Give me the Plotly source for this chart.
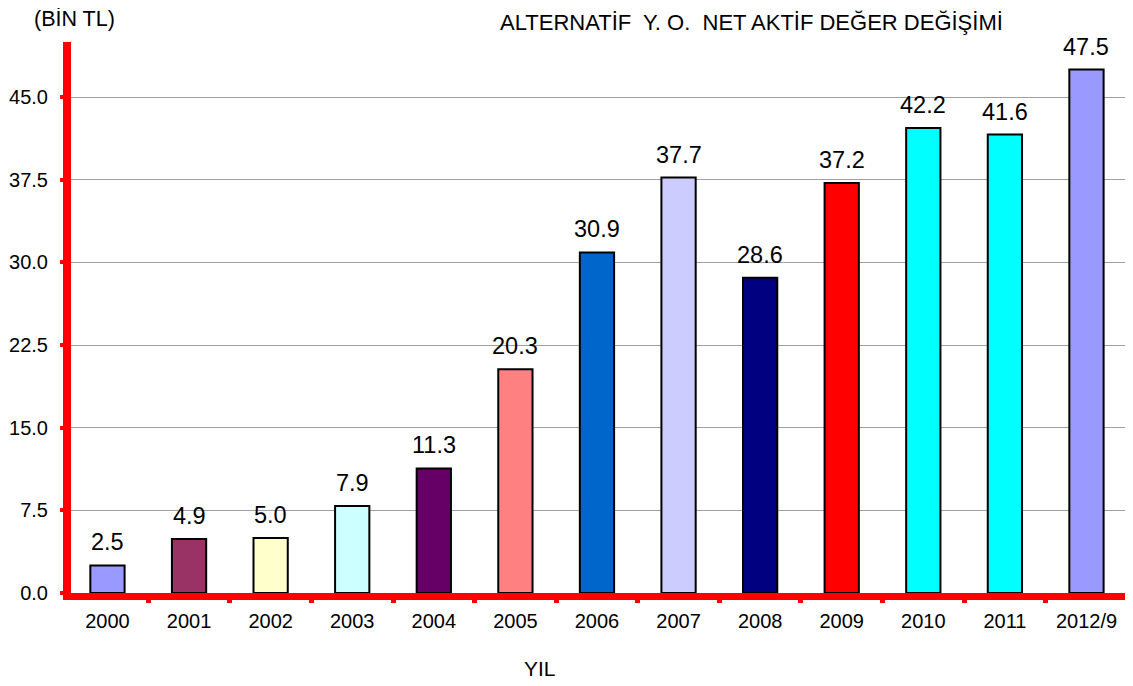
import plotly.graph_objects as go

years = ["2000", "2001", "2002", "2003", "2004", "2005", "2006", "2007", "2008", "2009", "2010", "2011", "2012/9"]
values = [2.5, 4.9, 5.0, 7.9, 11.3, 20.3, 30.9, 37.7, 28.6, 37.2, 42.2, 41.6, 47.5]
colors = ["#9999FF", "#993366", "#FFFFCC", "#CCFFFF", "#660066", "#FF8080", "#0066CC",
          "#CCCCFF", "#000080", "#FF0000", "#00FFFF", "#00FFFF", "#9999FF"]
ytick_vals = [0, 7.5, 15, 22.5, 30, 37.5, 45]
ytick_text = ["0.0", "7.5", "15.0", "22.5", "30.0", "37.5", "45.0"]

FONT = "Liberation Sans, Arial"

fig = go.Figure(go.Bar(
    x=years, y=values,
    marker=dict(color=colors, line=dict(color="black", width=2)),
    width=0.42,
    cliponaxis=False,
))

# value labels above bars (category index positions on the category axis)
annotations = [
    dict(x=i, y=v, xref="x", yref="y", text=f"{v:.1f}", showarrow=False,
         yanchor="bottom", xanchor="center", yshift=8,
         font=dict(size=23.5, color="black", family=FONT))
    for i, v in enumerate(values)
]
annotations += [
    dict(text="ALTERNATİF  Y. O.  NET AKTİF DEĞER DEĞİŞİMİ", xref="paper", yref="paper",
         x=0.644, y=1.0, yanchor="middle", xanchor="center", showarrow=False,
         font=dict(size=22, family=FONT), yshift=20),
    dict(text="(BİN TL)", xref="paper", yref="paper", x=0.003, y=1.0,
         xanchor="center", yanchor="middle", showarrow=False, font=dict(size=21.5, family=FONT), yshift=23),
    dict(text="YIL", xref="paper", yref="paper", x=0.4437, y=0, xanchor="center",
         yanchor="middle", showarrow=False, font=dict(size=21, family=FONT), yshift=-75),
]

# page body adds an 8px offset; figure sized to fill the remaining window
fig.update_layout(
    width=1125, height=678,
    margin=dict(l=63, r=5, t=34, b=93),
    plot_bgcolor="white", paper_bgcolor="white",
    font=dict(family=FONT, color="black"),
    showlegend=False,
    xaxis=dict(
        type="category",
        range=[-0.447, 12.509],
        automargin=False,
        showline=True, linecolor="#FF0000", linewidth=7,
        ticks="outside", tickcolor="#FF0000", ticklen=3, tickwidth=5,
        tickson="boundaries",
        tickfont=dict(size=20), showgrid=False, zeroline=False,
        ticklabelstandoff=4,
    ),
    yaxis=dict(
        automargin=False,
        range=[0, 50], tickvals=ytick_vals, ticktext=ytick_text,
        showline=True, linecolor="#FF0000", linewidth=8,
        ticks="outside", tickcolor="#FF0000", ticklen=3, tickwidth=4,
        tickfont=dict(size=20),
        ticklabelstandoff=8,
        showgrid=True, gridcolor="#A0A0A0", gridwidth=1, zeroline=False,
    ),
    annotations=annotations,
)

fig.write_html("out.html")
